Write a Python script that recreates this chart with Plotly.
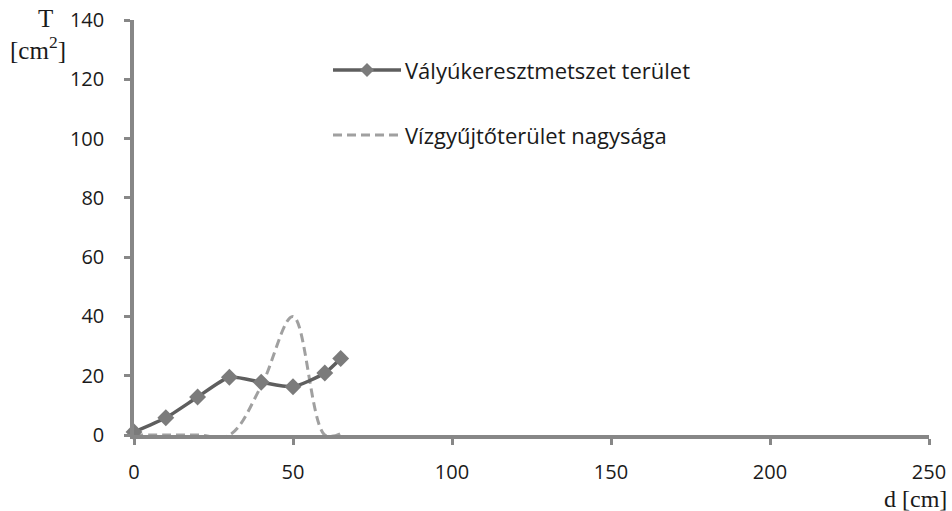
import plotly.graph_objects as go

# Data
d_cm = [0, 10, 20, 30, 40, 50, 60, 65]
valyu_terulet = [1, 5.8, 12.8, 19.5, 17.8, 16.3, 20.9, 25.8]
vizgyujto_d = [0, 10, 20, 30, 40, 50, 60, 65]
vizgyujto_terulet = [0, 0, 0, 0, 16.5, 40, 0, 0.5]
x_ticks = [0, 50, 100, 150, 200, 250]
y_ticks = [0, 20, 40, 60, 80, 100, 120, 140]
series_names = ["Vályúkeresztmetszet terület", "Vízgyűjtőterület nagysága"]

L, R, T, B = 134, 929, 20, 435
W, H = R - L, B - T

tick_font = dict(family="Open Sans, Lato, sans-serif", size=20, color="#1a1a1a")
leg_font = dict(family="Open Sans, Lato, sans-serif", size=22, color="#1a1a1a")
serif = dict(family="Liberation Serif, Times New Roman, serif", size=25, color="#1a1a1a")
dash_pat = "9px,5px"
axis_col = "#878787"

def px(x):
    return (x - L) / W

def py(y):
    return (B - y) / H

fig = go.Figure()
fig.add_trace(go.Scatter(
    x=vizgyujto_d, y=vizgyujto_terulet, mode="lines", name=series_names[1],
    line=dict(color="#a0a0a0", width=3, dash=dash_pat, shape="spline", smoothing=1.0),
    showlegend=False, cliponaxis=False))
fig.add_trace(go.Scatter(
    x=d_cm, y=valyu_terulet, mode="lines+markers", name=series_names[0],
    line=dict(color="#5e5e5e", width=3.5, shape="spline", smoothing=0.6),
    marker=dict(symbol="diamond", size=13, color="#7b7b7b"),
    showlegend=False, cliponaxis=False))

fig.update_xaxes(range=[0, 250], tickvals=x_ticks, showgrid=False, zeroline=False,
                 showline=True, linecolor=axis_col, linewidth=3.5, automargin=False,
                 ticks="outside", ticklen=6, tickwidth=3, tickcolor=axis_col,
                 tickfont=tick_font, ticklabelstandoff=10)
fig.update_yaxes(range=[0, 140], tickvals=y_ticks, showgrid=False, zeroline=False,
                 showline=True, linecolor=axis_col, linewidth=3.5, automargin=False,
                 ticks="outside", ticklen=6, tickwidth=3, tickcolor=axis_col,
                 tickfont=tick_font, ticklabelstandoff=16)

# manual legend
fig.add_shape(type="line", xref="paper", yref="paper", x0=px(333), x1=px(401),
              y0=py(70), y1=py(70), line=dict(color="#5e5e5e", width=3.5))
cx, cy = px(367), py(70)
dx, dy = 7 / W, 7 / H
fig.add_shape(type="path", xref="paper", yref="paper",
              path=f"M {cx-dx} {cy} L {cx} {cy+dy} L {cx+dx} {cy} L {cx} {cy-dy} Z",
              fillcolor="#7b7b7b", line=dict(width=0))
fig.add_shape(type="line", xref="paper", yref="paper", x0=px(333), x1=px(401),
              y0=py(135), y1=py(135), line=dict(color="#a0a0a0", width=3, dash=dash_pat))
fig.add_annotation(xref="paper", yref="paper", x=px(403), y=py(70),
                   text=series_names[0], showarrow=False, xanchor="left", yanchor="middle",
                   font=leg_font)
fig.add_annotation(xref="paper", yref="paper", x=px(403), y=py(135),
                   text=series_names[1], showarrow=False, xanchor="left", yanchor="middle",
                   font=leg_font)

# axis titles
fig.add_annotation(xref="paper", yref="paper", x=px(45), y=py(19),
                   text="T", showarrow=False, xanchor="center", yanchor="middle", font=serif)
fig.add_annotation(xref="paper", yref="paper", x=px(38), y=py(48),
                   text="[cm<sup>2</sup>]", showarrow=False, xanchor="center", yanchor="middle", font=serif)
fig.add_annotation(xref="paper", yref="paper", x=px(949), y=py(499),
                   text="d [cm]", showarrow=False, xanchor="right", yanchor="middle",
                   font=dict(serif, size=24))

fig.update_layout(width=952, height=511, margin=dict(l=L, r=952 - R, t=T, b=511 - B),
                  paper_bgcolor="white", plot_bgcolor="white")
fig.write_html("out.html")
